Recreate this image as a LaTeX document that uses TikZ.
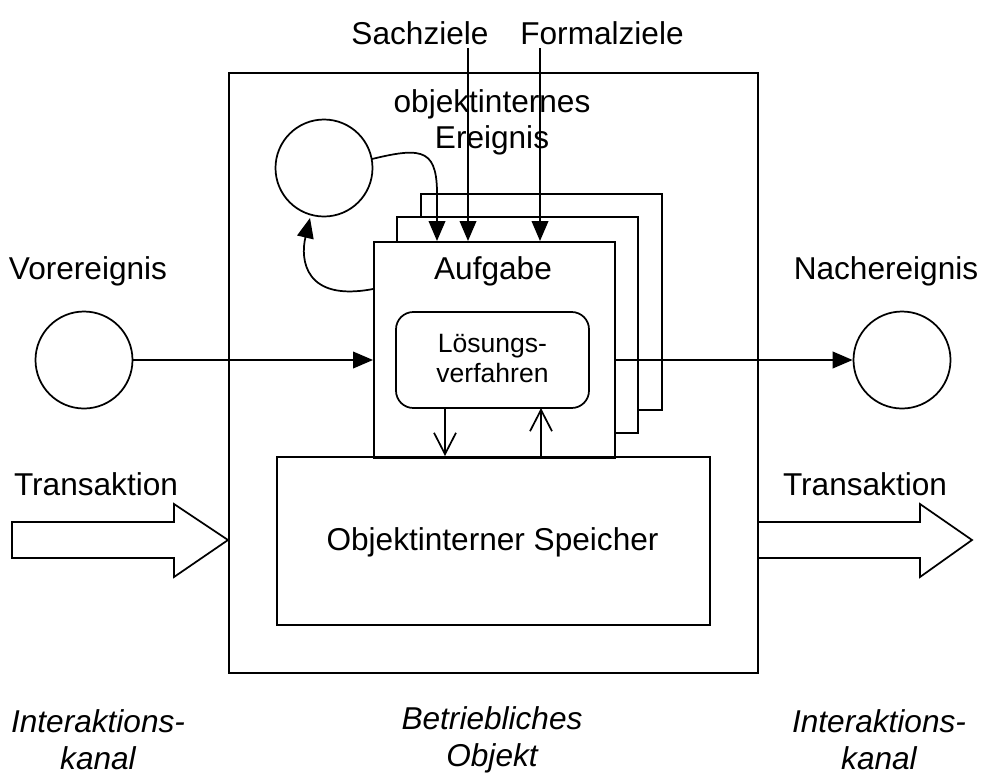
\documentclass[tikz,border=0pt]{standalone}
\usepackage{fontspec}
\setmainfont{Liberation Sans}
\usetikzlibrary{arrows.meta}
\begin{document}
\begin{tikzpicture}[x=0.75pt,y=-0.75pt,
  line width=1.3pt,
  lbl/.style={font=\fontsize{23.7}{27}\selectfont, align=center, inner sep=0pt},
  small/.style={font=\fontsize{19.9}{22.5}\selectfont, align=center, inner sep=0pt},
  caption/.style={font=\fontsize{23.7}{27.75}\selectfont\itshape, align=center, inner sep=0pt},
  ev/.style={draw, circle, minimum size=72.75pt, inner sep=0pt},
  taskbox/.style={draw, fill=white, minimum width=180.75pt, minimum height=162pt, inner sep=0pt, anchor=north west},
  solid arrow/.style={-{Triangle[length=15pt,width=12.5pt]}},
  open arrow/.style={-{Straight Barb[length=16pt,width=16.5pt,line width=1.3pt]}}]
\useasboundingbox (0,0) rectangle (984,779);

% enterprise object (outer frame)
\node[draw, minimum width=396.75pt, minimum height=450pt, inner sep=0pt, anchor=north west] (obj) at (228,72) {};

% stacked task sheets
\node[taskbox] (task3) at (420,193) {};
\node[taskbox] (task2) at (396,216) {};
\node[taskbox] (task) at (373,241) {};
\node[lbl] (aufgabe) at (493,271) {Aufgabe};
\node[draw, rounded corners=13pt, minimum width=144.75pt, minimum height=72pt, inner sep=0pt] (loes) at (492.5,360) {};
\node[small] (loestxt) at (492.5,358) {Lösungs-\\verfahren};

% internal store
\node[draw, minimum width=324.75pt, minimum height=126pt, inner sep=0pt, anchor=north west] (store) at (276,456) {};
\node[lbl] (storetxt) at (492.5,542) {Objektinterner Speicher};

% events
\node[ev] (vor) at (84,360) {};
\node[ev] (nach) at (902,360) {};
\node[ev] (intern) at (324,168) {};
\node[lbl] (vortxt) at (88,271) {Vorereignis};
\node[lbl] (nachtxt) at (886,271) {Nachereignis};
\node[lbl] (interntxt) at (492,122) {objektinternes\\Ereignis};

% goals
\node[lbl] (sach) at (420,33) {Sachziele};
\node[lbl] (formal) at (602,33) {Formalziele};
\coordinate (sachTop) at (468,48);
\coordinate (sachIn) at (468,241);
\coordinate (formTop) at (540,48);
\coordinate (formIn) at (540,241);
\draw[solid arrow] (sachTop) -- (sachIn);
\draw[solid arrow] (formTop) -- (formIn);

% event flows
\draw[solid arrow] (vor.east) -- (vor.east -| task.west);
\draw[solid arrow] (nach.west -| task.east) -- (nach.west);
\coordinate (intOut) at (372,159);
\coordinate (intIn) at (437,241);
\draw[solid arrow] (intOut) .. controls (425,146) and (438,150) .. (437,200) -- (intIn);
\coordinate (taskOut) at (373,289);
\coordinate (intBack) at (310,218);
\draw[solid arrow] (taskOut) .. controls (305,302) and (300,260) .. (intBack);

% store access
\coordinate (rdTop) at (445,408);
\coordinate (rdBot) at (445,456);
\coordinate (wrBot) at (541,456);
\coordinate (wrTop) at (541,408);
\draw[open arrow] (rdTop) -- (rdBot);
\draw[open arrow] (wrBot) -- (wrTop);

% transactions (interaction channels)
\draw (12,522) -- (174,522) -- (174,504) -- (228,540) -- (174,577) -- (174,558) -- (12,558) -- cycle;
\draw (757,522) -- (920,522) -- (920,504) -- (972,540) -- (920,577) -- (920,558) -- (757,558);
\node[lbl] (transL) at (96,484) {Transaktion};
\node[lbl] (transR) at (865,484) {Transaktion};

% captions
\node[caption] (capL) at (98,740) {Interaktions-\\kanal};
\node[caption] (capM) at (492,740) {Betriebliches\\Objekt};
\node[caption] (capR) at (879,740) {Interaktions-\\kanal};
\end{tikzpicture}
\end{document}
